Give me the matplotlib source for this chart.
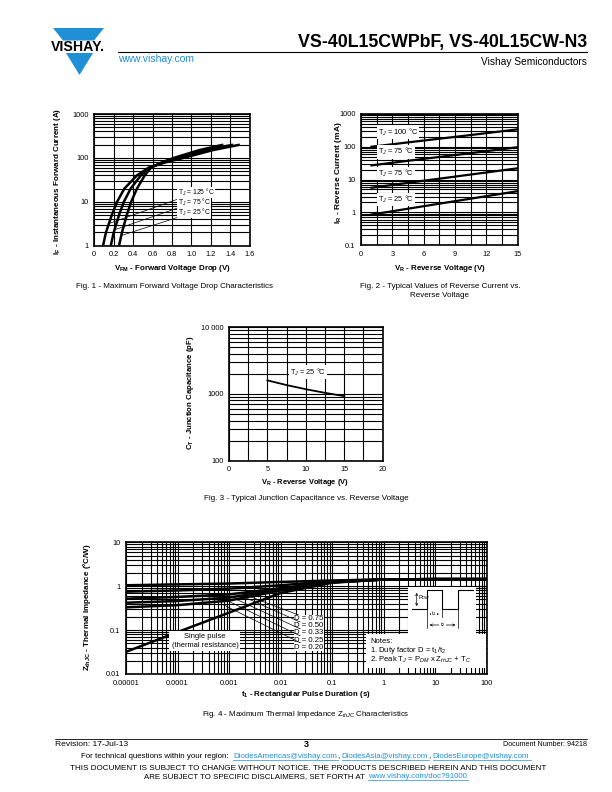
import numpy as np
import matplotlib
matplotlib.use("Agg")
import matplotlib.pyplot as plt
from matplotlib.lines import Line2D
from matplotlib.patches import Polygon, Rectangle, FancyArrowPatch
from matplotlib.ticker import FixedLocator, LogLocator, NullFormatter, MultipleLocator

plt.rcParams['font.family'] = ['Liberation Sans', 'DejaVu Sans']
plt.rcParams['mathtext.fontset'] = 'custom'
plt.rcParams['mathtext.rm'] = 'Liberation Sans'
plt.rcParams['mathtext.it'] = 'Liberation Sans:italic'
plt.rcParams['mathtext.bf'] = 'Liberation Sans:bold'

# Fig. 1 - forward voltage drop (V) read at each current (A)
fwd_current = [1, 2, 5, 10, 20, 40, 60, 80, 100, 150, 200]
vfm_125 = [0.09, 0.12, 0.18, 0.235, 0.31, 0.44, 0.56, 0.74, 0.92, 1.22, 1.50]
vfm_75 = [0.17, 0.20, 0.255, 0.305, 0.375, 0.48, 0.57, 0.72, 0.87, 1.15, 1.43]
vfm_25 = [0.255, 0.285, 0.335, 0.38, 0.44, 0.52, 0.585, 0.70, 0.82, 1.08, 1.33]
fwd_labels = ['T$_J$ = 125 °C', 'T$_J$ = 75 °C', 'T$_J$ = 25 °C']

# Fig. 2 - reverse current (mA) vs reverse voltage (V)
rev_voltage = [1, 5, 10, 15]
ir_100 = [100, 142, 218, 340]
ir_75a = [27, 39, 61, 97]
ir_75b = [5.6, 8.3, 13.5, 22]
ir_25 = [0.85, 1.36, 2.45, 4.4]
rev_labels = ['T$_J$ = 100 °C', 'T$_J$ = 75 °C', 'T$_J$ = 75 °C', 'T$_J$ = 25 °C']

# Fig. 3 - junction capacitance (pF) vs reverse voltage (V)
cap_voltage = [5, 7.5, 10, 12.5, 15]
cap_pf = [1600, 1360, 1180, 1040, 930]

# Fig. 4 - thermal impedance (°C/W) vs pulse duration (s)
pulse_t = [1e-5, 1e-4, 1e-3, 1e-2, 1e-1, 1, 10, 100]
z_single = [0.032, 0.09, 0.25, 0.70, 1.20, 1.42, 1.45, 1.45]
z_d075 = [1.05, 1.10, 1.15, 1.25, 1.35, 1.43, 1.45, 1.45]
z_d050 = [0.75, 0.80, 0.88, 1.05, 1.30, 1.42, 1.45, 1.45]
z_d033 = [0.52, 0.57, 0.65, 0.90, 1.25, 1.42, 1.45, 1.45]
z_d025 = [0.42, 0.46, 0.55, 0.85, 1.23, 1.42, 1.45, 1.45]
z_d020 = [0.33, 0.37, 0.47, 0.80, 1.22, 1.42, 1.45, 1.45]
duty_labels = ['D = 0.75', 'D = 0.50', 'D = 0.33', 'D = 0.25', 'D = 0.20']

BLUE = '#1f8fd6'
W, H = 612, 792
fig = plt.figure(figsize=(W / 100, H / 100), dpi=100)
renderer = fig.canvas.get_renderer()


def fx(x):
    return x / W


def fy(y):
    return 1 - y / H


def axes_px(x0, y0, x1, y1):
    return fig.add_axes([fx(x0), fy(y1), (x1 - x0) / W, (y1 - y0) / H])


def text_w(s, size, **kw):
    t = fig.text(0, 0, s, fontsize=size, **kw)
    w = t.get_window_extent(renderer).width
    t.remove()
    return w


def put(s, x, y, width=None, size=6, ha='center', va='center', rot=0, **kw):
    # place text at page pixel coords, optionally scaled to a measured width
    if width:
        size = size * width / text_w(s, size, **kw)
    return fig.text(fx(x), fy(y), s, fontsize=size, ha=ha, va=va,
                    rotation=rot, rotation_mode='anchor', **kw)


def rich_line(parts, cx, y, target_w, base=6):
    widths = [text_w(s, base) for s, _, _, _ in parts]
    gap = text_w('a a', base) - text_w('aa', base)
    total = sum(widths) + gap * sum(1 for p in parts if p[3])
    k = target_w / total
    x = cx - target_w / 2
    for (s, c, link, sp), w in zip(parts, widths):
        if s == ',':
            x -= 1.2
        fig.text(fx(x), fy(y), s, fontsize=base * k, color=c, ha='left', va='baseline')
        if link:
            fig.add_artist(Line2D([fx(x), fx(x + w * k)], [fy(y + 1.3)] * 2, color=c, lw=0.5))
        x += w * k + (gap * k if sp else 0)


def style(ax):
    for s in ax.spines.values():
        s.set_linewidth(1.2)
    ax.tick_params(which='both', length=0, labelsize=5.3, pad=4)
    ax.grid(which='both', color='black', lw=0.8)
    ax.set_axisbelow(True)


def log_minor(axis):
    axis.set_minor_locator(LogLocator(base=10, subs=np.arange(2, 10)))
    axis.set_minor_formatter(NullFormatter())


lbl_box = dict(facecolor='white', edgecolor='none', pad=0.2)

# ---------------- header ----------------
fig.add_artist(Polygon([(fx(53), fy(28)), (fx(104), fy(28)), (fx(94), fy(40.5)), (fx(63), fy(40.5))],
                       closed=True, transform=fig.transFigure, color=BLUE, lw=0))
fig.add_artist(Polygon([(fx(66), fy(53)), (fx(93), fy(53)), (fx(79.5), fy(75))],
                       closed=True, transform=fig.transFigure, color=BLUE, lw=0))
put('VISHAY.', 78, 47, width=54, weight='bold')
put('VS-40L15CWPbF, VS-40L15CW-N3', 587, 42, width=290, ha='right', weight='bold')
fig.add_artist(Line2D([fx(118), fx(587)], [fy(52)] * 2, color='black', lw=0.8))
put('www.vishay.com', 118, 58.5, width=77, ha='left', color=BLUE)
put('Vishay Semiconductors', 587, 62, width=107, ha='right')

# ---------------- Fig. 1 ----------------
ax1 = axes_px(94.3, 114, 249.5, 245.7)
ax1.set_yscale('log')
ax1.set_xlim(0, 1.6)
ax1.set_ylim(1, 1000)
ax1.set_xticks(np.arange(0, 1.61, 0.2))
ax1.set_xticklabels(['0', '0.2', '0.4', '0.6', '0.8', '1.0', '1.2', '1.4', '1.6'])
ax1.yaxis.set_major_locator(FixedLocator([1, 10, 100, 1000]))
ax1.set_yticklabels(['1', '10', '100', '1000'])
log_minor(ax1.yaxis)
style(ax1)
curves1 = [vfm_125, vfm_75, vfm_25]
for v in curves1:
    ax1.plot(v, fwd_current, color='black', lw=1.8, solid_capstyle='butt')
label_i = [16.2, 9.75, 5.85]
anchor_i = [3.2, 2.3, 1.7]
for v, lab, li, ai in zip(curves1, fwd_labels, label_i, anchor_i):
    av = np.interp(np.log10(ai), np.log10(fwd_current), v)
    ax1.annotate(lab, xy=(av, ai), xytext=(0.86, li), fontsize=4.9, ha='left', va='center',
                 bbox=lbl_box, arrowprops=dict(arrowstyle='-', lw=0.5, color='black',
                                               shrinkA=0, shrinkB=0))
put(r'V$_{\mathbf{FM}}$ - Forward Voltage Drop (V)', 173, 268, width=117, weight='bold')
put(r'I$_{\mathbf{F}}$ - Instantaneous Forward Current (A)', 58, 181, width=147, rot=90, weight='bold')
put('Fig. 1 - Maximum Forward Voltage Drop Characteristics', 174, 286, width=198)

# ---------------- Fig. 2 ----------------
ax2 = axes_px(361, 114, 517.7, 245)
ax2.set_yscale('log')
ax2.set_xlim(0, 15)
ax2.set_ylim(0.1, 1000)
ax2.set_xticks([0, 3, 6, 9, 12, 15])
ax2.xaxis.set_minor_locator(MultipleLocator(1.5))
ax2.yaxis.set_major_locator(FixedLocator([0.1, 1, 10, 100, 1000]))
ax2.set_yticklabels(['0.1', '1', '10', '100', '1000'])
log_minor(ax2.yaxis)
style(ax2)
curves2 = [ir_100, ir_75a, ir_75b, ir_25]
label_ir = [282, 70, 15.5, 2.5]
for c, lab, li in zip(curves2, rev_labels, label_ir):
    ax2.plot(rev_voltage, c, color='black', lw=1.6)
    ax2.text(1.65, li, lab, fontsize=5.3, ha='left', va='center',
             bbox=dict(facecolor='white', edgecolor='none', pad=0.8))
put(r'V$_{\mathbf{R}}$ - Reverse Voltage (V)', 440, 268, width=93, weight='bold')
put(r'I$_{\mathbf{R}}$ - Reverse Current (mA)', 338, 173, width=103, rot=90, weight='bold')
cap2 = 'Fig. 2 - Typical Values of Reverse Current vs.'
cap2_size = 6 * 161 / text_w(cap2, 6)
put(cap2, 440, 286, size=cap2_size)
put('Reverse Voltage', 440, 295.5, size=cap2_size)

# ---------------- Fig. 3 ----------------
ax3 = axes_px(229, 327.3, 382.7, 460.7)
ax3.set_yscale('log')
ax3.set_xlim(0, 20)
ax3.set_ylim(100, 10000)
ax3.set_xticks([0, 5, 10, 15, 20])
ax3.xaxis.set_minor_locator(MultipleLocator(2.5))
ax3.yaxis.set_major_locator(FixedLocator([100, 1000, 10000]))
ax3.set_yticklabels(['100', '1000', '10 000'])
log_minor(ax3.yaxis)
style(ax3)
ax3.plot(cap_voltage, cap_pf, color='black', lw=1.3)
ax3.text(7.95, 2140, 'T$_J$ = 25 °C', fontsize=5.3, ha='left', va='center',
         bbox=dict(facecolor='white', edgecolor='none', pad=0.8))
put(r'V$_{\mathbf{R}}$ - Reverse Voltage (V)', 305, 483, width=88, weight='bold')
put(r'C$_{\mathbf{T}}$ - Junction Capacitance (pF)', 191, 393, width=115, rot=90, weight='bold')
put('Fig. 3 - Typical Junction Capacitance vs. Reverse Voltage', 306, 499, width=205)

# ---------------- Fig. 4 ----------------
ax4 = axes_px(126, 542.3, 486.7, 674)
ax4.set_xscale('log')
ax4.set_yscale('log')
ax4.set_xlim(1e-5, 100)
ax4.set_ylim(0.01, 10)
ax4.xaxis.set_major_locator(FixedLocator([1e-5, 1e-4, 1e-3, 1e-2, 1e-1, 1, 10, 100]))
ax4.set_xticklabels(['0.00001', '0.0001', '0.001', '0.01', '0.1', '1', '10', '100'])
ax4.yaxis.set_major_locator(FixedLocator([0.01, 0.1, 1, 10]))
ax4.set_yticklabels(['0.01', '0.1', '1', '10'])
log_minor(ax4.xaxis)
log_minor(ax4.yaxis)
style(ax4)
ax4.plot(pulse_t, z_single, color='black', lw=1.8)
duty_curves = [z_d075, z_d050, z_d033, z_d025, z_d020]
for z in duty_curves:
    ax4.plot(pulse_t, z, color='black', lw=1.8)
label_z = [0.179, 0.124, 0.086, 0.059, 0.041]
anchor_t = [2.2e-3, 2.0e-3, 1.4e-3, 1.0e-3, 7e-4]
anchor_z = [0.62, 0.56, 0.5, 0.45, 0.4]
for lab, lz, at, az in zip(duty_labels, label_z, anchor_t, anchor_z):
    ax4.annotate(lab, xy=(at, az), xytext=(0.0185, lz), fontsize=5.6, ha='left', va='center',
                 bbox=lbl_box, arrowprops=dict(arrowstyle='-', lw=0.5, color='black',
                                               shrinkA=0, shrinkB=0))
ax4.text(3.4e-4, 0.0565, 'Single pulse\n(thermal resistance)', fontsize=5.4, ha='center',
         va='center', linespacing=1.3, bbox=dict(facecolor='white', edgecolor='none', pad=1.5))

# notes box and waveform inset
fig.add_artist(Rectangle((fx(366), fy(667.5)), (486 - 366) / W, (667.5 - 634) / H,
                         transform=fig.transFigure, facecolor='white', edgecolor='none'))
fig.add_artist(Rectangle((fx(408), fy(634)), (476 - 408) / W, (634 - 587) / H,
                         transform=fig.transFigure, facecolor='white', edgecolor='none'))
wave_x = [411.7, 426.7, 426.7, 441.7, 441.7, 458.3, 458.3, 473]
wave_y = [609, 609, 590, 590, 609, 609, 590, 590]
fig.add_artist(Line2D([fx(x) for x in wave_x], [fy(y) for y in wave_y], color='black', lw=0.8))
for x, y1 in [(426.7, 628), (441.7, 617), (458.3, 628)]:
    fig.add_artist(Line2D([fx(x)] * 2, [fy(609), fy(y1)], color='black', lw=0.5))
fig.add_artist(FancyArrowPatch((fx(416.7), fy(590)), (fx(416.7), fy(609)), arrowstyle='<->',
                               mutation_scale=4, lw=0.5, transform=fig.transFigure))
fig.add_artist(FancyArrowPatch((fx(426.7), fy(614)), (fx(441.7), fy(614)), arrowstyle='<->',
                               mutation_scale=4, lw=0.5, transform=fig.transFigure))
fig.add_artist(FancyArrowPatch((fx(426.7), fy(625)), (fx(458.3), fy(625)), arrowstyle='<->',
                               mutation_scale=4, lw=0.5, transform=fig.transFigure))
put('P$_{DM}$', 418.5, 598, size=4.2, ha='left')
put('t$_1$', 434.2, 613.5, size=4.2, bbox=dict(facecolor='white', edgecolor='none', pad=0.2))
put('t$_2$', 442.5, 624.5, size=4.2, bbox=dict(facecolor='white', edgecolor='none', pad=0.2))
put('Notes:', 370, 641.5, size=5.5, ha='left')
put('1. Duty factor D = t$_1$/t$_2$', 370, 650.5, size=5.5, ha='left')
put('2. Peak T$_J$ = P$_{DM}$ x Z$_{thJC}$ + T$_C$', 370, 660, size=5.5, ha='left')

put(r't$_{\mathbf{1}}$ - Rectangular Pulse Duration (s)', 306, 695, width=131, weight='bold')
put(r'Z$_{\mathbf{thJC}}$ - Thermal Impedance (°C/W)', 87, 607, width=129, rot=90, weight='bold')
put('Fig. 4 - Maximum Thermal Impedance Z$_{thJC}$ Characteristics', 306, 714, width=207)

# ---------------- footer ----------------
fig.add_artist(Line2D([fx(55), fx(587)], [fy(738.5)] * 2, color='black', lw=0.6))
put('Revision: 17-Jul-13', 55, 744, width=73, ha='left')
put('3', 306, 744.5, size=6.5, weight='bold')
put('Document Number: 94218', 587, 744, width=84, ha='right')
rich_line([('For technical questions within your region:', 'black', False, True),
           ('DiodesAmericas@vishay.com', BLUE, True, False),
           (',', 'black', False, True),
           ('DiodesAsia@vishay.com', BLUE, True, False),
           (',', 'black', False, True),
           ('DiodesEurope@vishay.com', BLUE, True, False)], 307, 758.5, 452)
rich_line([('THIS DOCUMENT IS SUBJECT TO CHANGE WITHOUT NOTICE. THE PRODUCTS DESCRIBED HEREIN AND THIS DOCUMENT',
            'black', False, False)], 308, 769.5, 476)
rich_line([('ARE SUBJECT TO SPECIFIC DISCLAIMERS, SET FORTH AT', 'black', False, True),
           ('www.vishay.com/doc?91000', BLUE, True, False)], 306, 778.5, 324)

fig.savefig('out.png', dpi=100)
